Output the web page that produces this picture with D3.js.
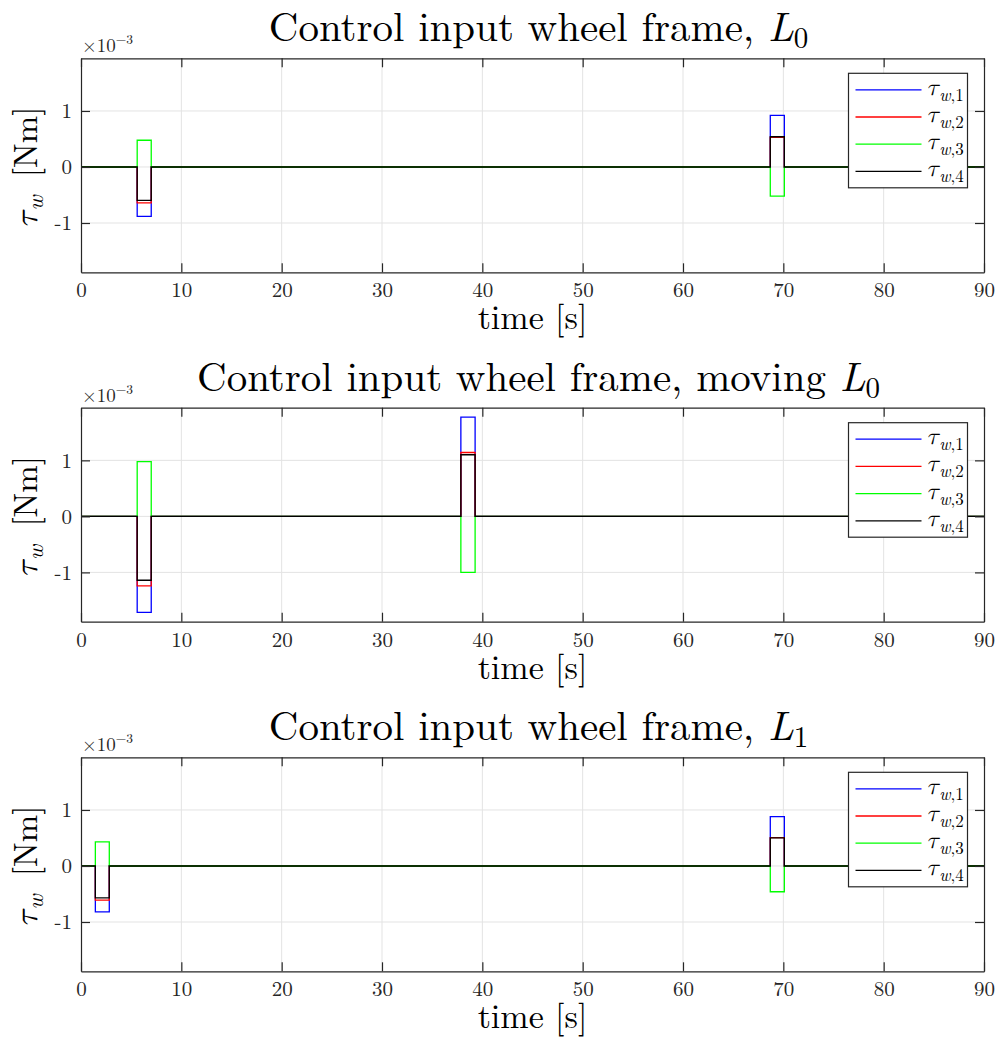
<!DOCTYPE html>
<html>
<head>
<meta charset="utf-8">
<script src="https://cdn.jsdelivr.net/npm/d3@7"></script>
<style>
  body { margin: 0; background: #fff; }
</style>
</head>
<body>
<div id="app"></div>
<script>
const WIDTH = 999;
const HEIGHT = 1044;

// x axis ticks (time, s) and y axis ticks (x 1e-3 Nm)
const xTicks = [0, 10, 20, 30, 40, 50, 60, 70, 80, 90];
const yTicks = [-1, 0, 1];
const xDomain = [0, 90];
const yDomain = [-1.88, 1.94];

const seriesNames = ['1', '2', '3', '4'];
const seriesColors = ['#0000ff', '#ff0000', '#00ff00', '#000000'];

// titles, "L" then subscript
const titles = [
  { text: 'Control input wheel frame, ', sub: '0' },
  { text: 'Control input wheel frame, moving ', sub: '0' },
  { text: 'Control input wheel frame, ', sub: '1' }
];

// pulse windows [start, end] in seconds, per subplot
const pulsesL0 = [[5.6, 7.0], [68.7, 70.1]];
const pulsesMoving = [[5.6, 7.0], [37.86, 39.28]];
const pulsesL1 = [[1.43, 2.82], [68.7, 70.1]];

// pulse amplitudes (x 1e-3) per wheel, one per pulse window
const ampL0 = [
  [-0.88, 0.92],
  [-0.64, 0.53],
  [0.477, -0.52],
  [-0.595, 0.54]
];
const ampMoving = [
  [-1.714, 1.77],
  [-1.24, 1.14],
  [0.977, -1.0],
  [-1.14, 1.10]
];
const ampL1 = [
  [-0.82, 0.88],
  [-0.61, 0.505],
  [0.43, -0.46],
  [-0.57, 0.50]
];

const panels = [
  { title: titles[0], pulses: pulsesL0, amps: ampL0, top: 58.3 },
  { title: titles[1], pulses: pulsesMoving, amps: ampMoving, top: 407.7 },
  { title: titles[2], pulses: pulsesL1, amps: ampL1, top: 757.3 }
];

const AX_LEFT = 81;
const AX_RIGHT = 984;
const AX_HEIGHT = 214;
const TICK_LEN = 9;
const LM = '"Latin Modern Roman", "Liberation Serif", serif';
const LM_MATH = '"Latin Modern Math", "Latin Modern Roman", "Liberation Serif", serif';

const svg = d3.select('#app')
  .append('svg')
  .attr('width', WIDTH)
  .attr('height', HEIGHT);

// turn pulse windows + amplitudes into a step signal
function stepSignal(pulses, amps) {
  const pts = [[xDomain[0], 0]];
  pulses.forEach((p, i) => {
    pts.push([p[0], 0], [p[0], amps[i]], [p[1], amps[i]], [p[1], 0]);
  });
  pts.push([xDomain[1], 0]);
  return pts;
}

panels.forEach(panel => drawPanel(panel));

function drawPanel(panel) {
  const top = panel.top;
  const bottom = top + AX_HEIGHT;
  const x = d3.scaleLinear().domain(xDomain).range([AX_LEFT, AX_RIGHT]);
  const y = d3.scaleLinear().domain(yDomain).range([bottom, top]);

  const g = svg.append('g');

  // grid
  g.append('g')
    .selectAll('line')
    .data(xTicks.slice(1, -1))
    .join('line')
    .attr('x1', d => x(d)).attr('x2', d => x(d))
    .attr('y1', top).attr('y2', bottom)
    .attr('stroke', '#e3e3e3').attr('stroke-width', 1);
  g.append('g')
    .selectAll('line')
    .data(yTicks)
    .join('line')
    .attr('x1', AX_LEFT).attr('x2', AX_RIGHT)
    .attr('y1', d => y(d)).attr('y2', d => y(d))
    .attr('stroke', '#e3e3e3').attr('stroke-width', 1);

  // lines
  const line = d3.line().x(d => x(d[0])).y(d => y(d[1]));
  panel.amps.forEach((a, i) => {
    g.append('path')
      .datum(stepSignal(panel.pulses, a))
      .attr('d', line)
      .attr('fill', 'none')
      .attr('stroke', seriesColors[i])
      .attr('stroke-width', 1.3);
  });

  // axes (box with inward ticks on all sides)
  const fmt = d => String(d);
  const xBottom = d3.axisBottom(x).tickValues(xTicks).tickFormat(fmt).tickSizeInner(-TICK_LEN).tickSizeOuter(0).tickPadding(10);
  const xTop = d3.axisTop(x).tickValues(xTicks).tickSizeInner(-TICK_LEN).tickSizeOuter(0).tickFormat('');
  const yLeft = d3.axisLeft(y).tickValues(yTicks).tickFormat(fmt).tickSizeInner(-TICK_LEN).tickSizeOuter(0).tickPadding(9);
  const yRight = d3.axisRight(y).tickValues(yTicks).tickSizeInner(-TICK_LEN).tickSizeOuter(0).tickFormat('');

  const axes = [
    g.append('g').attr('transform', `translate(0,${bottom})`).call(xBottom),
    g.append('g').attr('transform', `translate(0,${top})`).call(xTop),
    g.append('g').attr('transform', `translate(${AX_LEFT},0)`).call(yLeft),
    g.append('g').attr('transform', `translate(${AX_RIGHT},0)`).call(yRight)
  ];
  axes.forEach(a => {
    a.select('.domain').attr('stroke', '#262626').attr('stroke-width', 1.2);
    a.selectAll('.tick line').attr('stroke', '#262626').attr('stroke-width', 1.2);
    a.selectAll('.tick text')
      .attr('fill', '#262626')
      .style('font-family', LM)
      .style('font-size', '21px');
  });

  // x10^-3 exponent
  const ex = g.append('text')
    .attr('x', AX_LEFT + 1)
    .attr('y', top - 6)
    .attr('fill', '#262626')
    .style('font-family', LM)
    .style('font-size', '19px');
  ex.append('tspan').text('×10');
  ex.append('tspan').attr('dy', -8).style('font-size', '13.5px').text('−3');

  // title
  const t = g.append('text')
    .attr('x', (AX_LEFT + AX_RIGHT) / 2 + 6)
    .attr('y', top - 17)
    .attr('text-anchor', 'middle')
    .attr('fill', '#000')
    .style('font-family', LM)
    .style('font-size', '41px');
  t.append('tspan').text(panel.title.text);
  t.append('tspan').style('font-style', 'italic').text('L');
  t.append('tspan').attr('dy', 7).style('font-size', '29px').text(panel.title.sub);

  // x label
  g.append('text')
    .attr('x', (AX_LEFT + AX_RIGHT) / 2)
    .attr('y', bottom + 57)
    .attr('text-anchor', 'middle')
    .attr('fill', '#000')
    .style('font-family', LM)
    .style('font-size', '34px')
    .text('time [s]');

  // y label
  const yl = g.append('text')
    .attr('transform', `translate(37,${(top + bottom) / 2 + 2}) rotate(-90)`)
    .attr('text-anchor', 'middle')
    .attr('fill', '#000')
    .style('font-family', LM)
    .style('font-size', '33px');
  yl.append('tspan').style('font-family', LM_MATH).style('font-style', 'italic').text('τ');
  yl.append('tspan').attr('dy', 6).style('font-size', '23px').style('font-style', 'italic').text('w');
  yl.append('tspan').attr('dy', -6).attr('dx', 18).text('[Nm]');

  // legend
  const lg = g.append('g').attr('transform', `translate(848.5,${top + 15})`);
  lg.append('rect')
    .attr('width', 119).attr('height', 114.5)
    .attr('fill', '#fff').attr('stroke', '#262626').attr('stroke-width', 1.2);
  seriesNames.forEach((n, i) => {
    const ly = 16.5 + i * 27.2;
    lg.append('line')
      .attr('x1', 7).attr('x2', 73)
      .attr('y1', ly).attr('y2', ly)
      .attr('stroke', seriesColors[i]).attr('stroke-width', 1.3);
    const lt = lg.append('text')
      .attr('x', 78).attr('y', ly + 5)
      .attr('fill', '#000')
      .style('font-family', LM)
      .style('font-size', '24px');
    lt.append('tspan').style('font-family', LM_MATH).style('font-style', 'italic').text('τ');
    lt.append('tspan').attr('dy', 6).style('font-size', '17px').style('font-style', 'italic').text('w');
    lt.append('tspan').style('font-size', '17px').text(',' + n);
  });
}
</script>
</body>
</html>
